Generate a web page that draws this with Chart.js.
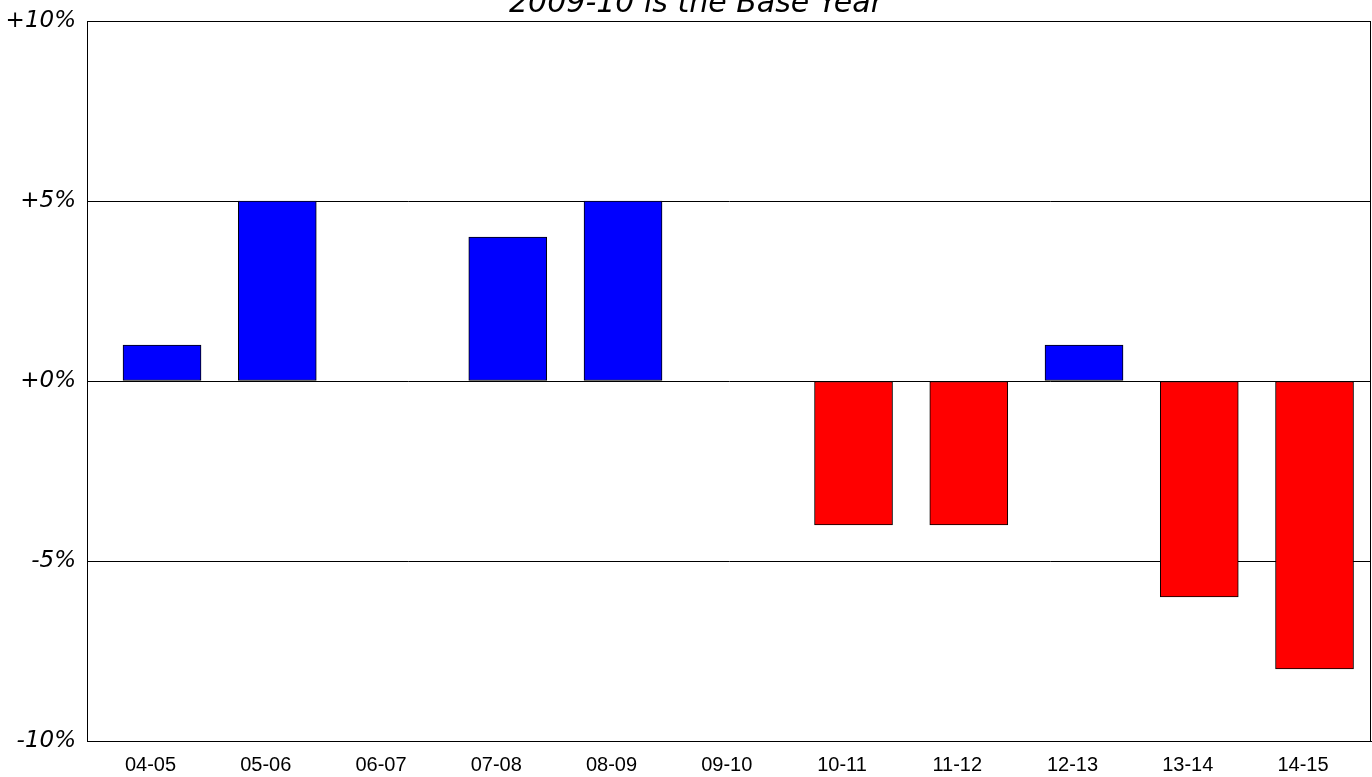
<!DOCTYPE html>
<html>
<head>
<meta charset="utf-8">
<script src="https://cdn.jsdelivr.net/npm/chart.js@4/dist/chart.umd.min.js"></script>
<style>
  html, body { margin: 0; padding: 0; background: #fff; }
  #wrap { width: 1372px; height: 777px; position: relative; }
</style>
</head>
<body>
<div id="wrap"><canvas id="chart"></canvas></div>
<script>
const TITLE = '2009-10 is the Base Year';
const categories = ['04-05', '05-06', '06-07', '07-08', '08-09', '09-10', '10-11', '11-12', '12-13', '13-14', '14-15'];
const changes = [1, 5, 0, 4, 5, 0, -4, -4, 1, -6, -8];
const yTicks = [-10, -5, 0, 5, 10];

const UP_COLOR = '#0000ff';
const DOWN_COLOR = '#ff0000';

// title sits mostly above the canvas edge, like the original
const titlePlugin = {
  id: 'cutTitle',
  afterDraw(chart) {
    const { ctx, chartArea } = chart;
    ctx.save();
    ctx.font = 'italic 30px "DejaVu Sans"';
    ctx.fillStyle = '#000';
    ctx.textAlign = 'center';
    ctx.textBaseline = 'alphabetic';
    ctx.fillText(TITLE, (chartArea.left + chartArea.right) / 2 - 33, chartArea.top - 9);
    ctx.restore();
  }
};

const boxPlugin = {
  id: 'box',
  afterDatasetsDraw(chart) {
    const { ctx, chartArea } = chart;
    ctx.save();
    ctx.strokeStyle = '#000';
    ctx.lineWidth = 1;
    ctx.strokeRect(chartArea.left + 0.5, chartArea.top + 0.5,
      chartArea.right - chartArea.left - 1, chartArea.bottom - chartArea.top);
    ctx.restore();
  }
};

new Chart(document.getElementById('chart'), {
  type: 'bar',
  data: {
    datasets: [{
      data: changes.map((v, i) => ({ x: i, y: v })),
      backgroundColor: changes.map(v => v >= 0 ? UP_COLOR : DOWN_COLOR),
      borderColor: '#000',
      borderWidth: 1,
      borderSkipped: false,
      barThickness: 78,
    }]
  },
  options: {
    responsive: true,
    maintainAspectRatio: false,
    animation: false,
    layout: { padding: { top: 21, right: 1, left: 0, bottom: 0 } },
    plugins: {
      legend: { display: false },
      title: { display: false },
      tooltip: { enabled: false }
    },
    scales: {
      x: {
        type: 'linear',
        offset: false,
        min: -0.651,
        max: 10.49,
        grid: { display: false, drawTicks: false, offset: false },
        border: { display: true, color: '#000' },
        afterBuildTicks: scale => {
          scale.ticks = categories.map((c, i) => ({ value: i - 0.1 }));
        },
        afterFit: scale => {
          scale.height = 36;
          scale.paddingLeft = 0;
          scale.paddingRight = 0;
        },
        ticks: {
          autoSkip: false,
          maxRotation: 0,
          padding: 12,
          color: '#000',
          font: { family: '"Liberation Sans", Arial', size: 20 },
          callback: (value, index) => categories[index]
        }
      },
      y: {
        min: -10,
        max: 10,
        afterBuildTicks: scale => {
          scale.ticks = yTicks.map(v => ({ value: v }));
        },
        afterFit: scale => {
          scale.width = 87;
          scale.paddingTop = 0;
          scale.paddingBottom = 0;
        },
        grid: { color: '#000', lineWidth: 1, drawTicks: false },
        border: { display: true, color: '#000' },
        ticks: {
          padding: 11,
          color: '#000',
          font: { family: '"DejaVu Sans"', size: 23, style: 'italic' },
          callback: v => (v >= 0 ? '+' : '') + v + '%'
        }
      }
    }
  },
  plugins: [titlePlugin, boxPlugin]
});
</script>
</body>
</html>
